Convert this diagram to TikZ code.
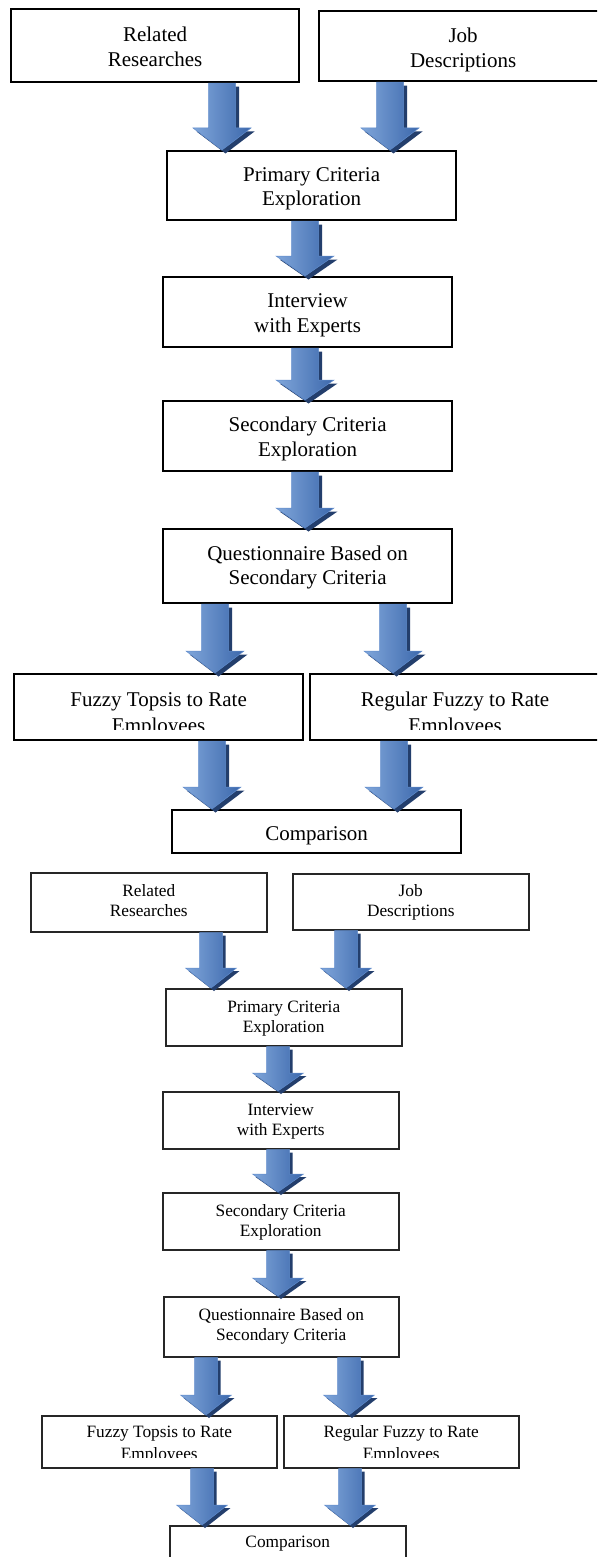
\documentclass[tikz,border=0pt]{standalone}
\usepackage{fontspec}
\setmainfont{Liberation Serif}
\usetikzlibrary{calc}
\definecolor{arrL}{RGB}{128,166,218}
\definecolor{arrM}{RGB}{76,127,194}
\definecolor{arrR}{RGB}{60,104,172}
\definecolor{arrE}{RGB}{96,140,204}
\definecolor{arrS}{RGB}{35,62,108}
\tikzset{
  boxA/.style={draw=black, line width=2.2pt, fill=white, anchor=north west, inner sep=0pt},
  boxB/.style={draw=black!85, line width=1.5pt, fill=white, anchor=north west, inner sep=0pt},
  txtA/.style={anchor=base, inner sep=0pt, font=\fontsize{21}{25}\selectfont},
  txtB/.style={anchor=base, inner sep=0pt, font=\fontsize{17.3}{20}\selectfont},
  arrbody/.style={left color=arrL, middle color=arrM, right color=arrR, draw=arrE, line width=0.5pt},
  arrshade/.style={fill=arrS},
}
% #1 from node, #2 to node, #3 x centre, #4 shaft half width, #5 head half width, #6 head height, #7 shadow offset
\newcommand\blockarrow[7]{%
  \fill[arrshade] let \p1=(#1.south), \p2=(#2.north) in
    ({#3pt-#4pt+#7pt},{\y1-#7pt}) -- ({#3pt+#4pt+#7pt},{\y1-#7pt})
    -- ({#3pt+#4pt+#7pt},{\y2+#6pt-#7pt}) -- ({#3pt+#5pt+#7pt},{\y2+#6pt-#7pt})
    -- ({#3pt+#7pt},{\y2-#7pt}) -- ({#3pt-#5pt+#7pt},{\y2+#6pt-#7pt})
    -- ({#3pt-#4pt+#7pt},{\y2+#6pt-#7pt}) -- cycle;
  \draw[arrbody] let \p1=(#1.south), \p2=(#2.north) in
    ({#3pt-#4pt},{\y1}) -- ({#3pt+#4pt},{\y1})
    -- ({#3pt+#4pt},{\y2+#6pt}) -- ({#3pt+#5pt},{\y2+#6pt})
    -- ({#3pt},{\y2}) -- ({#3pt-#5pt},{\y2+#6pt})
    -- ({#3pt-#4pt},{\y2+#6pt}) -- cycle;
}
\begin{document}
\begin{tikzpicture}[x=1pt,y=-1pt]
\useasboundingbox (0,0) rectangle (597,1557);
\clip (0,0) rectangle (597,1557);
\fill[white] (0,0) rectangle (597,1557);

% ================= upper diagram =================
\node[boxA, minimum width=288pt, minimum height=73pt] (r1) at (10,8) {};
\node[boxA, minimum width=288pt, minimum height=70pt] (j1) at (318,10) {};
\node[boxA, minimum width=289pt, minimum height=69pt] (p1) at (166,150) {};
\node[boxA, minimum width=289pt, minimum height=70pt] (i1) at (162,276) {};
\node[boxA, minimum width=289pt, minimum height=70pt] (s1) at (162,400) {};
\node[boxA, minimum width=289pt, minimum height=74pt] (q1) at (162,528) {};
\node[boxA, minimum width=289pt, minimum height=66pt] (f1) at (13,673) {};
\node[boxA, minimum width=292pt, minimum height=66pt] (g1) at (309,673) {};
\node[boxA, minimum width=289pt, minimum height=43pt] (c1) at (171,809) {};

\node[txtA] (r1a) at ($(r1.center)+(0,-4.5)$) {Related};
\node[txtA] (r1b) at ($(r1.center)+(0,20.5)$) {Researches};
\node[txtA] (j1a) at ($(j1.center)+(0,-3.5)$) {Job};
\node[txtA] (j1b) at ($(j1.center)+(0,21)$) {Descriptions};
\node[txtA] (p1a) at ($(p1.center)+(0,-4.5)$) {Primary Criteria};
\node[txtA] (p1b) at ($(p1.center)+(0,20)$) {Exploration};
\node[txtA] (i1a) at ($(i1.center)+(0,-4.5)$) {Interview};
\node[txtA] (i1b) at ($(i1.center)+(0,20)$) {with Experts};
\node[txtA] (s1a) at ($(s1.center)+(0,-4.5)$) {Secondary Criteria};
\node[txtA] (s1b) at ($(s1.center)+(0,20)$) {Exploration};
\node[txtA] (q1a) at ($(q1.center)+(0,-6)$) {Questionnaire Based on};
\node[txtA] (q1b) at ($(q1.center)+(0,18.5)$) {Secondary Criteria};
\begin{scope}
  \clip (13,673) rectangle (302,729);
  \node[txtA] (f1a) at ($(f1.center)+(0,-1)$) {Fuzzy Topsis to Rate};
  \node[txtA] (f1b) at ($(f1.center)+(0,25)$) {Employees};
\end{scope}
\begin{scope}
  \clip (309,673) rectangle (600,729);
  \node[txtA] (g1a) at ($(g1.center)+(-1,-1)$) {Regular Fuzzy to Rate};
  \node[txtA] (g1b) at ($(g1.center)+(-1,25)$) {Employees};
\end{scope}
\node[txtA] (c1a) at ($(c1.center)+(0,8.5)$) {Comparison};

\blockarrow{r1}{p1}{222}{13.5}{29}{22}{3.5}
\blockarrow{j1}{p1}{390}{13.5}{29}{22}{3.5}
\blockarrow{p1}{i1}{305}{13.5}{29}{20}{3.5}
\blockarrow{i1}{s1}{305}{13.5}{29}{20}{3.5}
\blockarrow{s1}{q1}{305}{13.5}{29}{20}{3.5}
\blockarrow{q1}{f1}{215}{13.5}{29}{22}{3.5}
\blockarrow{q1}{g1}{393}{13.5}{29}{22}{3.5}
\blockarrow{f1}{c1}{212}{13.5}{29}{22}{3.5}
\blockarrow{g1}{c1}{394}{13.5}{29}{22}{3.5}

% ================= lower diagram =================
\node[boxB, minimum width=236pt, minimum height=59pt] (r2) at (30,872) {};
\node[boxB, minimum width=236pt, minimum height=56pt] (j2) at (292,873) {};
\node[boxB, minimum width=236pt, minimum height=57pt] (p2) at (165,988) {};
\node[boxB, minimum width=236pt, minimum height=57pt] (i2) at (162,1091) {};
\node[boxB, minimum width=236pt, minimum height=57pt] (s2) at (162,1192) {};
\node[boxB, minimum width=235pt, minimum height=60pt] (q2) at (163,1296) {};
\node[boxB, minimum width=235pt, minimum height=52pt] (f2) at (41,1415) {};
\node[boxB, minimum width=235pt, minimum height=52pt] (g2) at (283,1415) {};
\node[boxB, minimum width=236pt, minimum height=50pt] (c2) at (169,1525) {};

\node[txtB] (r2a) at ($(r2.center)+(0,-5.5)$) {Related};
\node[txtB] (r2b) at ($(r2.center)+(0,14.5)$) {Researches};
\node[txtB] (j2a) at ($(j2.center)+(0,-5)$) {Job};
\node[txtB] (j2b) at ($(j2.center)+(0,15)$) {Descriptions};
\node[txtB] (p2a) at ($(p2.center)+(0,-4.5)$) {Primary Criteria};
\node[txtB] (p2b) at ($(p2.center)+(0,15)$) {Exploration};
\node[txtB] (i2a) at ($(i2.center)+(0,-4.5)$) {Interview};
\node[txtB] (i2b) at ($(i2.center)+(0,15)$) {with Experts};
\node[txtB] (s2a) at ($(s2.center)+(0,-4.5)$) {Secondary Criteria};
\node[txtB] (s2b) at ($(s2.center)+(0,15)$) {Exploration};
\node[txtB] (q2a) at ($(q2.center)+(0,-6)$) {Questionnaire Based on};
\node[txtB] (q2b) at ($(q2.center)+(0,14)$) {Secondary Criteria};
\begin{scope}
  \clip (41,1415) rectangle (276,1457);
  \node[txtB] (f2a) at ($(f2.center)+(0,-4)$) {Fuzzy Topsis to Rate};
  \node[txtB] (f2b) at ($(f2.center)+(0,18)$) {Employees};
\end{scope}
\begin{scope}
  \clip (283,1415) rectangle (518,1457);
  \node[txtB] (g2a) at ($(g2.center)+(0,-4)$) {Regular Fuzzy to Rate};
  \node[txtB] (g2b) at ($(g2.center)+(0,18)$) {Employees};
\end{scope}
\node[txtB] (c2a) at ($(c2.north)+(0,22)$) {Comparison};

\blockarrow{r2}{p2}{211}{11.5}{25.5}{20}{3}
\blockarrow{j2}{p2}{346}{11.5}{25.5}{20}{3}
\blockarrow{p2}{i2}{278}{11.5}{25.5}{18}{3}
\blockarrow{i2}{s2}{278}{11.5}{25.5}{18}{3}
\blockarrow{s2}{q2}{278}{11.5}{25.5}{18}{3}
\blockarrow{q2}{f2}{206}{11.5}{25.5}{20}{3}
\blockarrow{q2}{g2}{349}{11.5}{25.5}{20}{3}
\blockarrow{f2}{c2}{202}{11.5}{25.5}{20}{3}
\blockarrow{g2}{c2}{350}{11.5}{25.5}{20}{3}
\end{tikzpicture}
\end{document}
